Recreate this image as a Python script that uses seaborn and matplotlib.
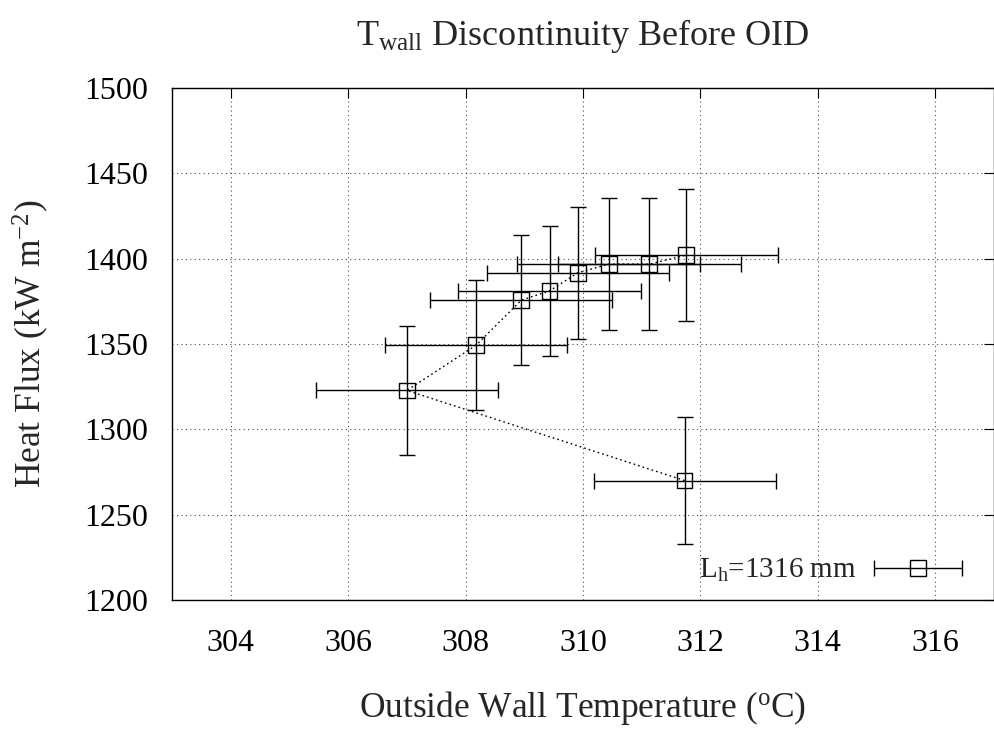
import matplotlib
matplotlib.use("Agg")
import matplotlib.pyplot as plt
from matplotlib.legend_handler import HandlerErrorbar
from matplotlib.container import ErrorbarContainer
import seaborn as sns
import pandas as pd
import numpy as np

# Data (in plotting order, as connected by the dotted line)
wall_temp = [311.73, 307.00, 308.18, 308.95, 309.43, 309.91, 310.44, 311.13, 311.76]
heat_flux = [1270.0, 1322.8, 1349.3, 1375.7, 1381.1, 1391.7, 1396.8, 1396.8, 1402.1]
temp_err = [1.55, 1.55, 1.55, 1.55, 1.56, 1.55, 1.56, 1.56, 1.56]
flux_err = [37.0, 37.6, 38.0, 38.2, 38.2, 38.5, 38.6, 38.6, 38.7]
series_label = r"L$_{\rm h}$=1316 mm"

df = pd.DataFrame({"T": wall_temp, "Q": heat_flux})

sns.set_theme(style="white")
plt.rcParams["font.family"] = ["Liberation Serif", "DejaVu Serif"]
plt.rcParams["mathtext.fontset"] = "custom"
plt.rcParams["mathtext.rm"] = "Liberation Serif"
plt.rcParams["mathtext.it"] = "Liberation Serif:italic"
plt.rcParams["font.size"] = 23

TICK_FS = 23
LAB_FS = 25.5

fig = plt.figure(figsize=(9.94, 7.32), dpi=100)
ax = fig.add_axes([172 / 994, 1 - 600 / 732, (994 - 172) / 994, (600 - 88) / 732])

# dotted connecting line
sns.lineplot(data=df, x="T", y="Q", sort=False, ax=ax, color="black",
             linestyle=(0, (1.2, 2.2)), linewidth=1.0, estimator=None, zorder=2)

# error bars with open squares
ax.errorbar(wall_temp, heat_flux, xerr=temp_err, yerr=flux_err, fmt="none",
            ecolor="black", elinewidth=1.0, capsize=6, capthick=1.0, zorder=3)
sns.scatterplot(data=df, x="T", y="Q", ax=ax, marker="s", s=130,
                facecolor="none", edgecolor="black", linewidth=1.0, zorder=4)

# legend handle: horizontal error bar with square
h = ax.errorbar([np.nan], [np.nan], xerr=[1.0], fmt="s", mfc="none", mec="black",
                ms=11, mew=1.0, ecolor="black", elinewidth=1.0, capsize=6,
                capthick=1.0, color="black")
leg = ax.legend([h], [series_label], loc="lower right", frameon=False,
                bbox_to_anchor=(0.98, 0.0),
                markerfirst=False, handlelength=3.0, fontsize=21,
                borderaxespad=0.25, borderpad=0.3, handletextpad=0.6,
                handler_map={ErrorbarContainer: HandlerErrorbar(xerr_size=1.5)})

ax.set_xlim(303, 317)
ax.set_ylim(1200, 1500)
ax.set_xticks([304, 306, 308, 310, 312, 314, 316])
ax.set_yticks([1200, 1250, 1300, 1350, 1400, 1450, 1500])
ax.grid(True, color="black", linestyle=(0, (1, 3)), linewidth=0.8, alpha=0.7)
ax.tick_params(direction="in", length=7, width=0.8, top=True, right=True,
               labelsize=TICK_FS, colors="black")
ax.tick_params(axis="x", pad=21)
ax.tick_params(axis="y", pad=17)
for s in ax.spines.values():
    s.set_color("black")
    s.set_linewidth(1.0)

ax.set_xlabel(r"Outside Wall Temperature ($^{\rm o}$C)", fontsize=LAB_FS, labelpad=22)
ax.set_ylabel(r"Heat Flux (kW m$^{-2}$)", fontsize=LAB_FS, labelpad=24)
fig.text(583 / 994, 1 - 36 / 732, r"T$_{\rm wall}$ Discontinuity Before OID",
         ha="center", va="center", fontsize=26)

fig.savefig("out.png", dpi=100)
